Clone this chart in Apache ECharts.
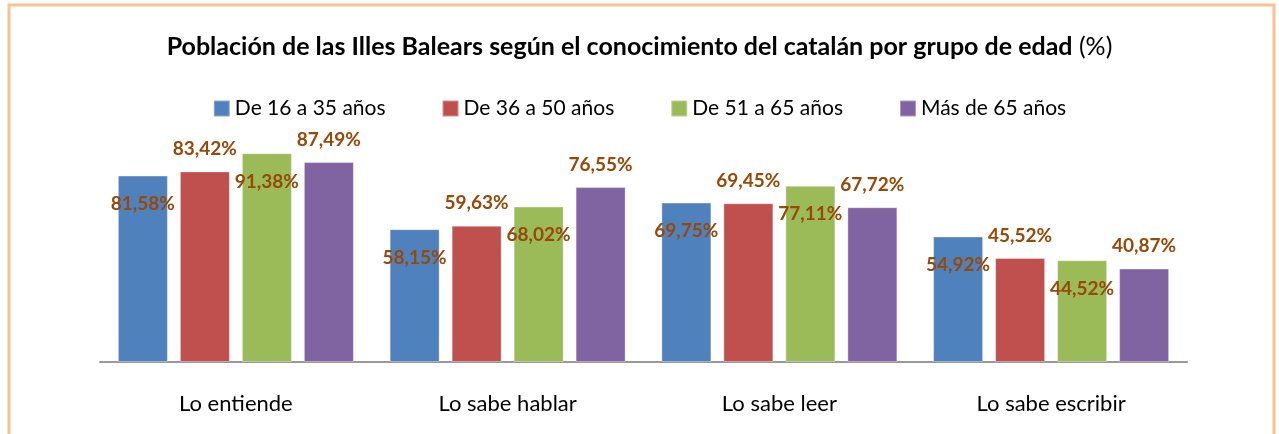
<!DOCTYPE html>
<html>
<head>
  <meta charset="utf-8">
  <title>Población de las Illes Balears</title>
  <script src="https://cdn.jsdelivr.net/npm/echarts@6/dist/echarts.min.js"></script>
  <style>
    html, body { margin: 0; padding: 0; background: #fff; }
  </style>
</head>
<body>
  <div id="main" style="width: 1279px;height:434px;"></div>
  <script type="text/javascript">
    // categorias y series
    var categories = ['Lo entiende', 'Lo sabe hablar', 'Lo sabe leer', 'Lo sabe escribir'];
    var seriesNames = ['De 16 a 35 años', 'De 36 a 50 años', 'De 51 a 65 años', 'Más de 65 años'];
    var edad16a35 = [81.58, 58.15, 69.75, 54.92];
    var edad36a50 = [83.42, 59.63, 69.45, 45.52];
    var edad51a65 = [91.38, 68.02, 77.11, 44.52];
    var masDe65 = [87.49, 76.55, 67.72, 40.87];
    var colors = ['#4f81bd', '#c0504d', '#9bbb59', '#8064a2'];

    var font = 'Lato, "Open Sans", sans-serif';
    var myChart = echarts.init(document.getElementById('main'));

    function fmt(p) {
      return p.value.toFixed(2).replace('.', ',') + '%';
    }

    // 1a y 3a serie: etiqueta dentro de la barra; 2a y 4a: encima
    function makeSeries(name, data, i) {
      var inside = (i % 2 === 0);
      return {
        name: name,
        type: 'bar',
        data: data,
        barWidth: 50,
        barGap: '24%',
        itemStyle: { color: colors[i], borderColor: 'rgba(255,255,255,0.35)', borderWidth: 1 },
        label: {
          show: true,
          position: inside ? 'insideTop' : 'top',
          offset: inside ? [0, 14] : [0, -8],
          formatter: fmt,
          color: '#984807',
          fontFamily: font,
          fontWeight: 'bold',
          fontSize: 19
        }
      };
    }

    var option = {
      animation: false,
      backgroundColor: '#fff',
      title: {
        text: '{b|Población de las Illes Balears según el conocimiento del catalán por grupo de edad}{n| (%)}',
        left: 'center',
        top: 29,
        textStyle: {
          rich: {
            b: { fontFamily: font, fontWeight: 'bold', fontSize: 25, color: '#000' },
            n: { fontFamily: font, fontWeight: 'normal', fontSize: 25, color: '#000' }
          }
        }
      },
      legend: {
        data: seriesNames,
        top: 93,
        left: 'center',
        itemWidth: 16,
        itemHeight: 16,
        itemGap: 56,
        icon: 'rect',
        textStyle: { fontFamily: font, fontSize: 21, color: '#000' }
      },
      grid: { left: 100, right: 92, top: 133.5, bottom: 72 },
      xAxis: {
        type: 'category',
        data: categories,
        axisLine: { lineStyle: { color: '#999', width: 2 } },
        axisTick: { show: false },
        axisLabel: { fontFamily: font, fontSize: 22, color: '#000', margin: 31 }
      },
      yAxis: {
        type: 'value',
        min: 0,
        max: 100,
        show: false,
        splitLine: { show: false }
      },
      graphic: [{
        type: 'rect',
        shape: { x: 9, y: 5, width: 1265, height: 460 },
        style: { fill: 'none', stroke: '#fac08f', lineWidth: 3 },
        z: -1
      }],
      series: [
        makeSeries(seriesNames[0], edad16a35, 0),
        makeSeries(seriesNames[1], edad36a50, 1),
        makeSeries(seriesNames[2], edad51a65, 2),
        makeSeries(seriesNames[3], masDe65, 3)
      ]
    };

    myChart.setOption(option);
  </script>
</body>
</html>
